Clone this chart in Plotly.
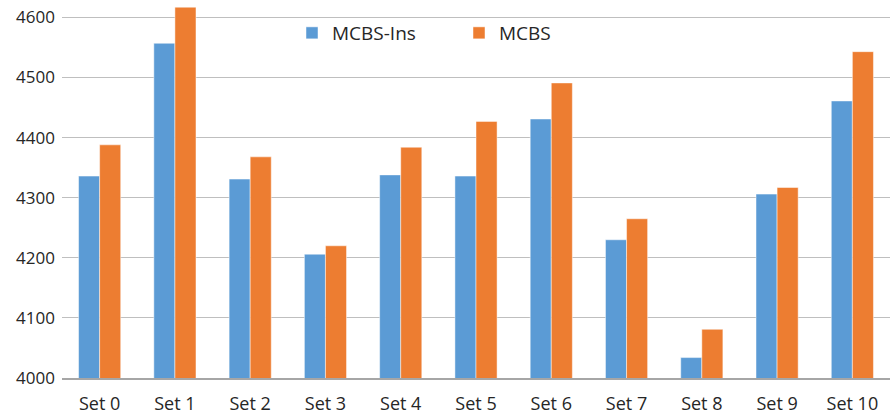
import plotly.graph_objects as go

categories = ["Set 0", "Set 1", "Set 2", "Set 3", "Set 4", "Set 5", "Set 6", "Set 7", "Set 8", "Set 9", "Set 10"]
mcbs_ins = [4336, 4557, 4331, 4206, 4338, 4336, 4431, 4230, 4034, 4306, 4461]
mcbs = [4388, 4617, 4368, 4220, 4384, 4427, 4491, 4265, 4081, 4317, 4543]
y_ticks = [4000, 4100, 4200, 4300, 4400, 4500, 4600]

FONT = "Open Sans"
TXT = "#262626"

fig = go.Figure()
fig.add_trace(go.Bar(name="MCBS-Ins", x=categories, y=mcbs_ins,
                     marker=dict(color="#5B9BD5", line=dict(color="rgba(255,255,255,0.6)", width=0.8))))
fig.add_trace(go.Bar(name="MCBS", x=categories, y=mcbs,
                     marker=dict(color="#ED7D31", line=dict(color="rgba(255,255,255,0.6)", width=0.8))))

fig.update_layout(
    width=890, height=416,
    margin=dict(l=62, r=0, t=0, b=38),
    plot_bgcolor="white", paper_bgcolor="white",
    barmode="group", bargap=0.44, bargroupgap=0,
    font=dict(family=FONT, size=17, color=TXT),
    showlegend=True,
    legend=dict(orientation="h", xref="paper", yref="paper",
                x=(292 - 62) / 828, y=(378 - 14) / 378, xanchor="left", yanchor="top",
                font=dict(size=19, color=TXT), entrywidth=122,
                bgcolor="rgba(0,0,0,0)", traceorder="normal"),
    xaxis=dict(showgrid=False, showline=True, linecolor="#A6A6A6", linewidth=2,
               ticks="", tickfont=dict(size=18, color=TXT), automargin=False,
               ticklabelstandoff=8),
    yaxis=dict(range=[4000, 4629], tickvals=y_ticks, showgrid=True, gridcolor="#BFBFBF",
               gridwidth=1.3, zeroline=False, showline=False, ticks="",
               tickfont=dict(size=17, color=TXT), ticklabelstandoff=6, automargin=False),
)

fig.write_html("out.html", config={"displayModeBar": False},
               post_script="document.body.style.margin='0px';document.body.style.overflow='hidden';")
